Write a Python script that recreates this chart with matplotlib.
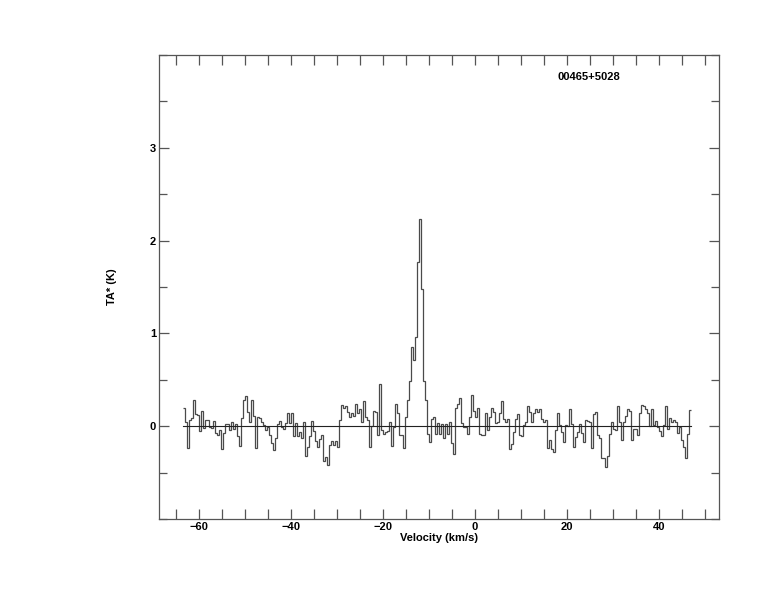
import numpy as np
import matplotlib
matplotlib.use("Agg")
import matplotlib.pyplot as plt
from matplotlib.ticker import MultipleLocator

# Spectrum: antenna temperature per channel (K)
v_start = -63.5      # km/s, left edge of first channel
dv = 0.435           # km/s, channel width
ta = [
    # -63.5 ... -36
    0.20, 0.04, -0.23, 0.07, 0.09, 0.28, 0.13, 0.12, -0.05, 0.16,
    -0.02, 0.065, 0.065, -0.01, -0.02, 0.06, -0.07, -0.09, -0.04, -0.25,
    -0.07, 0.02, 0.02, -0.04, 0.04, -0.03, 0.02, -0.11, -0.21, 0.09,
    0.28, 0.33, 0.15, 0.04, 0.28, 0.11, -0.24, 0.10, 0.09, 0.05,
    0.01, -0.04, -0.01, -0.10, -0.18, -0.26, -0.13, 0.02, 0.06, -0.01,
    -0.03, 0.03, 0.14, 0.03, 0.14, -0.11, 0.03, -0.11, -0.06, -0.13,
    0.05, -0.32, -0.22,
    # -36 ... -16
    -0.11, 0.06, -0.05, -0.16, -0.22, -0.14, -0.10, -0.37, -0.33, -0.42,
    -0.20, -0.16, -0.20, -0.16, -0.22, 0.07, 0.23, 0.20, 0.22, 0.15,
    0.10, 0.14, 0.11, 0.24, 0.14, 0.18, 0.05, 0.27, 0.10, 0.07,
    -0.22, 0.00, 0.16, 0.15, -0.09, 0.45, -0.04, -0.08, -0.06, -0.05,
    0.04, -0.21, -0.01, 0.24, 0.14, -0.09,
    # line region
    -0.09, -0.24, 0.10, 0.28, 0.49, 0.85, 0.71, 0.96, 1.77, 2.23,
    1.48, 0.49, 0.28, -0.08, -0.17, 0.08, 0.10, -0.08, 0.03, -0.08,
    # -7 ... 18.5
    0.02, -0.13, 0.02, -0.08, 0.04, -0.18, -0.30, 0.20, 0.24, 0.30,
    0.03, -0.01, -0.01, -0.08, 0.10, 0.34, 0.16, 0.10, 0.20, -0.08,
    -0.09, -0.09, 0.14, -0.04, 0.10, 0.20, 0.15, 0.03, 0.04, 0.14,
    0.27, 0.08, 0.04, 0.08, -0.25, -0.19, -0.06, 0.08, 0.13, -0.10,
    -0.11, 0.01, 0.05, 0.22, 0.15, 0.05, 0.14, 0.18, 0.15, 0.19,
    0.08, 0.04, 0.07, -0.23, -0.15, -0.25, -0.28, -0.04, 0.14,
    # 18.5 ... 47
    0.01, -0.06, -0.17, 0.01, 0.00, 0.19, 0.02, -0.22, -0.12, -0.06,
    0.02, -0.07, -0.17, 0.07, 0.06, 0.05, -0.24, 0.13, 0.15, -0.10,
    -0.13, -0.34, -0.34, -0.44, -0.32, -0.08, 0.05, -0.03, -0.04, 0.22,
    0.05, -0.15, 0.04, 0.11, 0.19, 0.16, -0.15, -0.03, -0.03, -0.09,
    0.14, 0.23, 0.22, 0.18, 0.14, 0.00, 0.18, 0.01, 0.06, -0.01,
    -0.05, -0.11, 0.01, 0.22, -0.03, 0.09, 0.05, 0.07, 0.04, -0.07,
    -0.01, -0.15, -0.22, -0.34, -0.08, 0.17,
]
source_name = "00465+5028"
x_label = "Velocity (km/s)"
y_label = "TA* (K)"

ta = np.array(ta)
edges = v_start + dv * np.arange(len(ta) + 1)

plt.rcParams['font.family'] = ['Liberation Sans', 'DejaVu Sans']
fig = plt.figure(figsize=(7.74, 6.12), dpi=100)
ax = fig.add_axes([159/774, 1 - 519/612, (719-159)/774, (519-55)/612])

ax.stairs(ta, edges, baseline=None, color='#4a4a4a', lw=0.9)
ax.plot([edges[0], edges[-1]], [0, 0], color='#222222', lw=0.8)

ax.set_xlim(-68.7, 53.0)
ax.set_ylim(-1.0, 4.0)
ax.xaxis.set_major_locator(MultipleLocator(20))
ax.xaxis.set_minor_locator(MultipleLocator(5))
ax.yaxis.set_major_locator(MultipleLocator(1))
ax.yaxis.set_minor_locator(MultipleLocator(0.5))
ax.set_yticks([0, 1, 2, 3])
ax.set_yticklabels(['0', '1', '2', '3'])

for s in ax.spines.values():
    s.set_color('#555555')
    s.set_linewidth(0.9)

ax.tick_params(which='both', direction='in', top=True, right=True,
               color='#555555', width=0.9, labelsize=8, pad=2)
ax.tick_params(which='major', length=7.5)
ax.tick_params(axis='x', which='minor', length=7.5)
ax.tick_params(axis='y', which='minor', length=5.5)
for lab in ax.get_xticklabels() + ax.get_yticklabels():
    lab.set_fontweight('bold')

ax.set_xlabel(x_label, fontsize=8, fontweight='bold', labelpad=1)
ax.set_ylabel(y_label, fontsize=8, fontweight='bold', labelpad=24)

fig.text(557/774, 1 - 77/612, source_name, fontsize=8, fontweight='bold',
         ha='left', va='center')

fig.savefig('out.png', dpi=100)
